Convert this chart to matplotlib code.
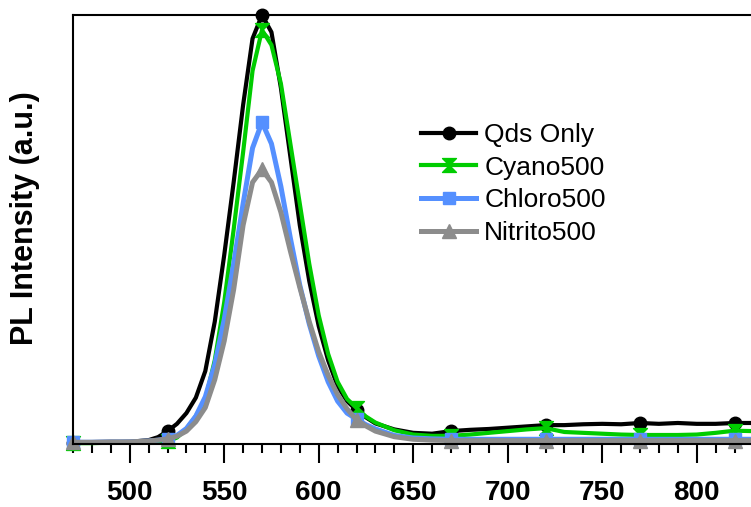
import matplotlib
matplotlib.use("Agg")
import matplotlib.pyplot as plt
from matplotlib.ticker import MultipleLocator
from matplotlib.path import Path

plt.rcParams['font.family'] = ['Liberation Sans', 'DejaVu Sans']

wavelength = [470, 480, 490, 500, 510, 515, 520, 525, 530, 535, 540, 545, 550, 555,
              560, 565, 570, 575, 580, 585, 590, 595, 600, 605, 610, 615, 620, 625,
              630, 640, 650, 660, 670, 680, 690, 700, 710, 720, 730, 740, 750, 760,
              770, 780, 790, 800, 810, 820, 830]

qds_only = [0.003, 0.003, 0.004, 0.005, 0.009, 0.016, 0.030, 0.047, 0.072, 0.108, 0.170,
            0.285, 0.440, 0.610, 0.790, 0.945, 1.000, 0.960, 0.830, 0.670, 0.510, 0.380,
            0.275, 0.195, 0.135, 0.100, 0.079, 0.062, 0.048, 0.034, 0.026, 0.024, 0.030,
            0.033, 0.035, 0.038, 0.041, 0.044, 0.044, 0.046, 0.047, 0.046, 0.049, 0.047,
            0.049, 0.047, 0.047, 0.049, 0.049]

cyano500 = [0.002, 0.002, 0.003, 0.004, 0.005, 0.006, 0.006, 0.015, 0.035, 0.065, 0.103,
            0.195, 0.330, 0.500, 0.680, 0.870, 0.965, 0.930, 0.840, 0.700, 0.560, 0.420,
            0.300, 0.210, 0.145, 0.105, 0.084, 0.064, 0.050, 0.032, 0.022, 0.019, 0.019,
            0.022, 0.026, 0.030, 0.034, 0.037, 0.028, 0.026, 0.024, 0.022, 0.021, 0.021,
            0.021, 0.022, 0.026, 0.031, 0.030]

chloro500 = [0.004, 0.004, 0.005, 0.005, 0.007, 0.009, 0.012, 0.020, 0.036, 0.065, 0.110,
             0.185, 0.290, 0.420, 0.560, 0.690, 0.750, 0.700, 0.600, 0.480, 0.370, 0.280,
             0.205, 0.145, 0.100, 0.072, 0.058, 0.045, 0.035, 0.020, 0.014, 0.012, 0.011,
             0.011, 0.011, 0.011, 0.011, 0.011, 0.011, 0.011, 0.011, 0.011, 0.011, 0.011,
             0.011, 0.011, 0.011, 0.011, 0.011]

nitrito500 = [0.004, 0.004, 0.005, 0.005, 0.007, 0.009, 0.012, 0.018, 0.030, 0.052, 0.085,
              0.150, 0.240, 0.360, 0.510, 0.610, 0.640, 0.610, 0.540, 0.450, 0.365, 0.285,
              0.215, 0.160, 0.115, 0.082, 0.056, 0.042, 0.030, 0.017, 0.011, 0.009, 0.008,
              0.008, 0.008, 0.008, 0.008, 0.008, 0.008, 0.008, 0.008, 0.008, 0.008, 0.008,
              0.008, 0.008, 0.008, 0.008, 0.008]

labels = ["Qds Only", "Cyano500", "Chloro500", "Nitrito500"]
marker_wavelengths = [470, 520, 570, 620, 670, 720, 770, 820]
xtick_labels = ["500", "550", "600", "650", "700", "750", "800"]

hourglass = Path([(-1, 1), (1, 1), (0, 0), (1, -1), (-1, -1), (0, 0), (-1, 1)],
                 [Path.MOVETO, Path.LINETO, Path.LINETO, Path.LINETO, Path.LINETO,
                  Path.LINETO, Path.CLOSEPOLY])

fig = plt.figure(figsize=(7.51, 5.07), dpi=100)
ax = fig.add_axes([73 / 751, 1 - 444 / 507, 1 - 73 / 751, (444 - 15) / 507])

mark_idx = [wavelength.index(w) for w in marker_wavelengths]

series = [
    (qds_only, '#000000', 'o', 9, 3.0),
    (cyano500, '#00CC00', hourglass, 10, 3.0),
    (chloro500, '#5590FF', 's', 9, 3.6),
    (nitrito500, '#8C8C8C', '^', 10, 3.6),
]
for (vals, col, mk, ms, lw), lab in zip(series, labels):
    ax.plot(wavelength, vals, color=col, lw=lw, marker=mk, markersize=ms,
            markevery=mark_idx, label=lab, clip_on=False, solid_joinstyle='round')

ax.set_xlim(470, 470 + (751 - 73) / 1.89)
ax.set_ylim(0, 1)

ax.spines['right'].set_visible(False)
for s in ['top', 'bottom', 'left']:
    ax.spines[s].set_linewidth(1.5)

ax.set_xticks([int(t) for t in xtick_labels])
ax.set_xticklabels(xtick_labels)
ax.xaxis.set_minor_locator(MultipleLocator(10))
ax.tick_params(axis='x', which='major', direction='out', length=14, width=1.5,
               labelsize=20, pad=12)
ax.tick_params(axis='x', which='minor', direction='out', length=6.5, width=1.5)
for t in ax.get_xticklabels():
    t.set_fontweight('bold')
ax.set_yticks([])

ax.set_ylabel("PL Intensity (a.u.)", fontsize=22, fontweight='bold')
ax.yaxis.set_label_coords(-(73 - 40) / 678, (444 - 218) / 429)

leg = ax.legend(loc='upper left', bbox_to_anchor=(421 / 751, 1 - 123 / 507),
                bbox_transform=fig.transFigure, frameon=False, fontsize=19,
                handlelength=2.1, handletextpad=0.3, labelspacing=0.33,
                borderaxespad=0, borderpad=0)

fig.savefig("out.png", dpi=100)
